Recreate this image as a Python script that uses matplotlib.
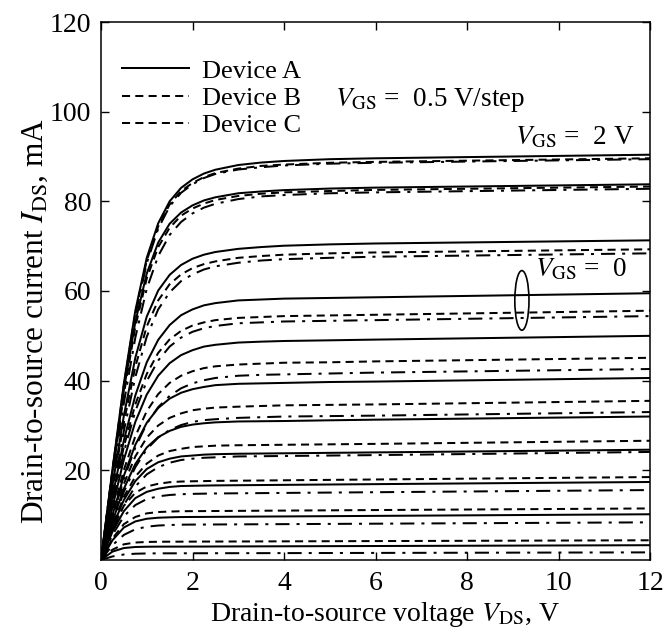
import matplotlib
matplotlib.use("Agg")
import matplotlib.pyplot as plt
from matplotlib.patches import Ellipse
from matplotlib.lines import Line2D

plt.rcParams['font.family'] = ['Liberation Serif', 'DejaVu Serif']
plt.rcParams['mathtext.fontset'] = 'stix'

# Drain-source voltage grid (V)
vds = [0, 0.25, 0.5, 0.75, 1.0, 1.25, 1.5, 1.75, 2.0, 2.25, 2.5, 3.0, 3.5, 4.0, 5.0, 6.0, 12.0]

# Device A drain current (mA), one row per V_GS step (top = 2 V)
ids_A = [
    [0, 20.2, 39.4, 55.6, 67.4, 75.1, 80.0, 83.0, 84.9, 86.2, 87.05, 88.1, 88.65, 89.0, 89.4, 89.6, 90.4],
    [0, 19.5, 37.95, 53.1, 63.9, 70.8, 75.0, 77.5, 79.1, 80.2, 80.9, 81.8, 82.2, 82.5, 82.85, 83.06, 83.8],
    [0, 16.6, 32.2, 45.1, 54.3, 60.1, 63.6, 65.8, 67.2, 68.1, 68.7, 69.4, 69.8, 70.1, 70.4, 70.6, 71.3],
    [0, 14.1, 26.7, 36.7, 44.1, 49.1, 52.4, 54.6, 55.9, 56.8, 57.3, 57.9, 58.1, 58.3, 58.45, 58.6, 59.5],
    [0, 11.8, 22.4, 30.8, 36.9, 41.1, 43.9, 45.7, 46.8, 47.6, 48.0, 48.5, 48.7, 48.85, 49.0, 49.16, 50.0],
    [0, 10.0, 18.8, 25.7, 30.6, 33.9, 36.0, 37.3, 38.1, 38.6, 39.0, 39.3, 39.4, 39.5, 39.7, 39.8, 40.6],
    [0, 8.6, 15.9, 21.4, 25.1, 27.4, 28.8, 29.7, 30.2, 30.5, 30.7, 30.9, 30.95, 31.0, 31.16, 31.3, 32.0],
    [0, 7.4, 13.4, 17.6, 20.3, 21.8, 22.6, 23.1, 23.3, 23.5, 23.6, 23.7, 23.75, 23.8, 23.9, 24.0, 24.6],
    [0, 6.3, 10.9, 13.8, 15.2, 15.9, 16.3, 16.5, 16.55, 16.6, 16.64, 16.68, 16.72, 16.76, 16.84, 16.92, 17.4],
    [0, 4.4, 7.25, 8.6, 9.2, 9.43, 9.52, 9.58, 9.6, 9.61, 9.63, 9.66, 9.69, 9.72, 9.78, 9.84, 10.2],
    [0, 1.87, 2.67, 2.9, 2.96, 2.98, 2.985, 2.99, 3.0, 3.0, 3.015, 3.03, 3.045, 3.06, 3.09, 3.12, 3.3],
]

# Device B drain current (mA)
ids_B = [
    [0, 20.0, 39.0, 55.1, 66.8, 74.4, 79.3, 82.3, 84.1, 85.4, 86.3, 87.3, 87.9, 88.2, 88.6, 88.8, 89.6],
    [0, 19.0, 37.0, 52.0, 62.8, 69.8, 74.1, 76.8, 78.4, 79.5, 80.3, 81.2, 81.7, 82.0, 82.3, 82.55, 83.3],
    [0, 15.8, 30.7, 43.1, 52.1, 57.9, 61.5, 63.7, 65.1, 66.0, 66.6, 67.4, 67.8, 68.1, 68.4, 68.6, 69.3],
    [0, 13.4, 25.3, 34.7, 41.5, 46.2, 49.2, 51.1, 52.3, 53.0, 53.5, 54.0, 54.2, 54.4, 54.55, 54.7, 55.6],
    [0, 10.6, 20.1, 27.6, 33.2, 37.0, 39.5, 41.1, 42.1, 42.8, 43.2, 43.6, 43.8, 44.0, 44.1, 44.3, 45.1],
    [0, 9.1, 17.0, 23.1, 27.3, 30.0, 31.7, 32.7, 33.4, 33.75, 34.0, 34.2, 34.35, 34.5, 34.6, 34.7, 35.5],
    [0, 7.7, 14.1, 18.6, 21.5, 23.3, 24.3, 24.8, 25.2, 25.35, 25.5, 25.6, 25.65, 25.7, 25.8, 25.9, 26.6],
    [0, 7.0, 12.1, 15.0, 16.4, 17.0, 17.35, 17.5, 17.56, 17.6, 17.65, 17.69, 17.73, 17.78, 17.87, 17.96, 18.5],
    [0, 4.8, 8.0, 9.6, 10.4, 10.7, 10.8, 10.88, 10.9, 10.91, 10.93, 10.96, 10.99, 11.02, 11.08, 11.14, 11.5],
    [0, 2.3, 3.5, 3.9, 4.02, 4.07, 4.085, 4.09, 4.1, 4.11, 4.115, 4.13, 4.145, 4.16, 4.19, 4.22, 4.4],
]

# Device C drain current (mA)
ids_C = [
    [0, 19.7, 38.5, 54.5, 66.2, 73.9, 78.9, 81.9, 83.8, 85.2, 86.1, 87.1, 87.6, 88.0, 88.4, 88.6, 89.4],
    [0, 17.9, 35.0, 49.6, 60.5, 67.8, 72.5, 75.4, 77.3, 78.6, 79.45, 80.5, 81.1, 81.4, 81.8, 82.0, 82.8],
    [0, 14.7, 28.8, 40.8, 49.8, 55.9, 59.7, 62.2, 63.7, 64.8, 65.5, 66.3, 66.8, 67.1, 67.4, 67.65, 68.4],
    [0, 12.7, 24.1, 33.2, 39.9, 44.5, 47.6, 49.6, 50.9, 51.7, 52.2, 52.8, 53.0, 53.2, 53.35, 53.5, 54.4],
    [0, 9.5, 18.1, 25.1, 30.4, 34.1, 36.6, 38.3, 39.4, 40.1, 40.6, 41.1, 41.3, 41.4, 41.6, 41.8, 42.6],
    [0, 8.1, 15.2, 20.7, 24.7, 27.3, 29.0, 30.1, 30.8, 31.2, 31.4, 31.7, 31.85, 32.0, 32.1, 32.2, 33.0],
    [0, 6.6, 12.3, 16.4, 19.1, 20.7, 21.7, 22.3, 22.6, 22.8, 22.9, 23.1, 23.15, 23.2, 23.3, 23.4, 24.1],
    [0, 5.6, 9.75, 12.25, 13.6, 14.2, 14.5, 14.67, 14.75, 14.8, 14.84, 14.88, 14.92, 14.96, 15.04, 15.12, 15.6],
    [0, 3.3, 5.6, 6.85, 7.43, 7.69, 7.8, 7.88, 7.9, 7.91, 7.925, 7.95, 7.975, 8.0, 8.05, 8.1, 8.4],
    [0, 0.79, 1.23, 1.4, 1.46, 1.485, 1.49, 1.495, 1.5, 1.505, 1.51, 1.52, 1.53, 1.54, 1.56, 1.58, 1.7],
]

device_labels = ['Device A', 'Device B', 'Device C']
x_ticks = [0, 2, 4, 6, 8, 10, 12]
y_ticks = [20, 40, 60, 80, 100, 120]

fig = plt.figure(figsize=(6.69, 6.32), dpi=100)
ax = fig.add_axes([101/669, 1 - 560/632, 549/669, 538/632])

lw = 1.45
dash_B = (0, (4.0, 2.6))
dash_C = (0, (7.0, 3.5, 1.5, 3.5))

for row in ids_C:
    ax.plot(vds, row, color='black', lw=lw, linestyle=dash_C)
for row in ids_B:
    ax.plot(vds, row, color='black', lw=lw, linestyle=dash_B)
for row in ids_A:
    ax.plot(vds, row, color='black', lw=lw, linestyle='-')

ax.set_xlim(0, 12)
ax.set_ylim(0, 120)
ax.set_xticks(x_ticks)
ax.set_yticks(y_ticks)
ax.tick_params(direction='in', top=True, right=True, length=6, width=1.0,
               labelsize=20)
ax.tick_params(axis='x', pad=8)
ax.tick_params(axis='y', pad=7)
for s in ax.spines.values():
    s.set_linewidth(1.1)

ax.set_xlabel(r'Drain-to-source voltage $V_{\mathrm{DS}}$, V', fontsize=20, labelpad=3)
ax.set_ylabel(r'Drain-to-source current $I_{\mathrm{DS}}$, mA', fontsize=22.5, labelpad=0)
ax.xaxis.label.set_x(0.517)
ax.yaxis.label.set_y(0.444)

handles = [
    Line2D([], [], color='black', lw=lw, linestyle='-'),
    Line2D([], [], color='black', lw=lw, linestyle=dash_B),
    Line2D([], [], color='black', lw=lw, linestyle=dash_B),
]
ax.legend(handles, device_labels, loc='upper left', bbox_to_anchor=(0.038, 0.931),
          frameon=False, fontsize=19, handlelength=2.55, handletextpad=0.5,
          labelspacing=0.14, borderpad=0, borderaxespad=0)

ax.text(5.12, 101.3, r'$V_{\mathrm{GS}}$ =  0.5 V/step', fontsize=19.5, ha='left', va='baseline')
ax.text(11.65, 92.7, r'$V_{\mathrm{GS}}$ =  2 V', fontsize=19.5, ha='right', va='baseline')
ax.text(9.49, 63.3, r'$V_{\mathrm{GS}}$ =  0', fontsize=19.5, ha='left', va='baseline')
ax.add_patch(Ellipse((9.2, 57.9), width=0.31, height=13.3, fill=False, lw=1.2, color='black'))

fig.savefig('out.png', dpi=100)
